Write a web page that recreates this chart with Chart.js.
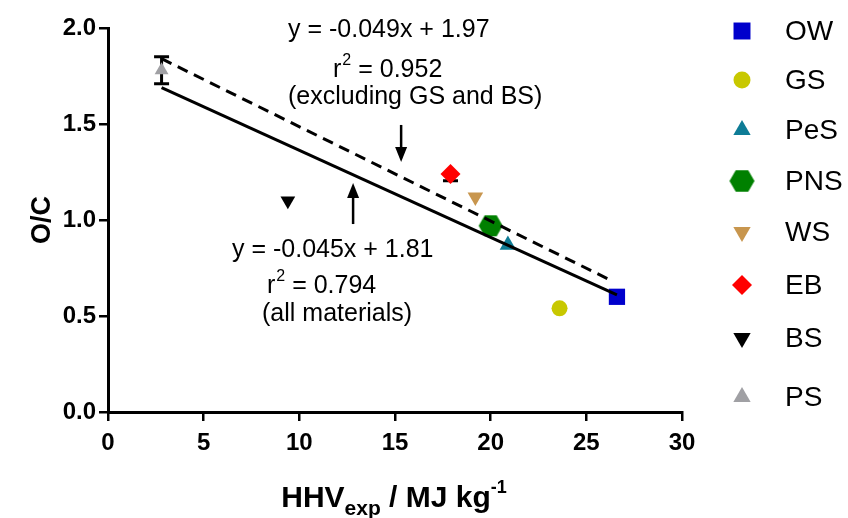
<!DOCTYPE html>
<html>
<head>
<meta charset="utf-8">
<script src="https://cdn.jsdelivr.net/npm/chart.js@4.4.0/dist/chart.umd.min.js"></script>
<style>
html, body { margin: 0; padding: 0; background: #fff; }
#wrap { width: 848px; height: 518px; }
</style>
</head>
<body>
<div id="wrap"><canvas id="myChart"></canvas></div>
<script>
// materials and their values
let materials = ['OW', 'GS', 'PeS', 'PNS', 'WS', 'EB', 'BS', 'PS'];
let hhv = [26.6, 23.6, 20.9, 20.0, 19.2, 17.9, 9.4, 2.8];
let oc = [0.60, 0.54, 0.87, 0.97, 1.12, 1.24, 1.10, 1.78];
let ocErrUp = [0, 0, 0, 0, 0, 0, 0, 0.07];
let ocErrDown = [0, 0, 0, 0, 0, 0.036, 0, 0.07];
let colors = ['#0000CC', '#C8C800', '#0E7C96', '#008000', '#C8964E', '#FF0000', '#000000', '#A0A0A4'];
let styles = ['rect', 'circle', 'triangle', 'hex', 'triangle', 'rectRot', 'triangle', 'triangle'];
let rotations = [0, 0, 0, 0, 180, 0, 180, 0];
let radii = [11.5, 8, 9.5, 12, 9, 10, 8.5, 8];
let legendRadii = [12, 8.5, 10, 12.5, 10, 10, 10, 10];

// regression lines, end points
let fitAllX = [2.8, 26.6];
let fitAllY = [1.69, 0.61];
let fitExclX = [2.8, 26.4];
let fitExclY = [1.84, 0.68];

let xTicks = [0, 5, 10, 15, 20, 25, 30];
let yTicks = [0.0, 0.5, 1.0, 1.5, 2.0];

let FONT = "'Liberation Sans', Arial, Helvetica, sans-serif";

// hexagon marker (not built in chart.js)
function makeHex(color, r) {
    let c = document.createElement('canvas');
    let w = Math.ceil(r * 2) + 2, h = Math.ceil(r * Math.sqrt(3)) + 2;
    c.width = w; c.height = h;
    let g = c.getContext('2d');
    g.fillStyle = color;
    g.beginPath();
    for (let i = 0; i < 6; i++) {
        let a = Math.PI / 3 * i;
        let px = w / 2 + r * Math.cos(a), py = h / 2 + r * Math.sin(a);
        if (i === 0) g.moveTo(px, py); else g.lineTo(px, py);
    }
    g.closePath();
    g.fill();
    return c;
}
let hexImg = makeHex('#008000', 12);
let hexLegend = makeHex('#008000', 12.5);

function pointStyleOf(i) {
    return styles[i] === 'hex' ? hexImg : styles[i];
}

let datasets = [];
// lines get a lower order so they are drawn over the markers
datasets.push({
    type: 'line',
    label: 'all materials',
    data: fitAllX.map((x, i) => ({x: x, y: fitAllY[i]})),
    borderColor: '#000',
    borderWidth: 3,
    pointRadius: 0,
    fill: false,
    order: 0
});
datasets.push({
    type: 'line',
    label: 'excluding GS and BS',
    data: fitExclX.map((x, i) => ({x: x, y: fitExclY[i]})),
    borderColor: '#000',
    borderWidth: 3,
    borderDash: [11, 7],
    pointRadius: 0,
    fill: false,
    order: 0
});
materials.forEach((m, i) => {
    datasets.push({
        type: 'scatter',
        label: m,
        data: [{x: hhv[i], y: oc[i]}],
        pointStyle: pointStyleOf(i),
        rotation: rotations[i],
        pointRadius: radii[i],
        backgroundColor: colors[i],
        borderColor: colors[i],
        borderWidth: 0,
        order: 1
    });
});

// annotations in data coordinates
let annText = [
    {x: 9.41, y: 1.953, text: 'y = -0.049x + 1.97'},
    {x: 11.76, y: 1.745, text: 'r', sup: '2', rest: ' = 0.952'},
    {x: 9.41, y: 1.604, text: '(excluding GS and BS)'},
    {x: 6.48, y: 0.807, text: 'y = -0.045x + 1.81'},
    {x: 8.31, y: 0.620, text: 'r', sup: '2', rest: ' = 0.794'},
    {x: 8.05, y: 0.474, text: '(all materials)'}
];
let arrows = [
    {x: 15.32, from: 1.495, to: 1.302},
    {x: 12.81, from: 0.979, to: 1.193}
];

let extras = {
    id: 'extras',
    beforeDatasetsDraw(chart) {
        let ctx = chart.ctx;
        let xs = chart.scales.x, ys = chart.scales.y;
        ctx.save();
        ctx.strokeStyle = '#000';
        ctx.lineWidth = 3;
        hhv.forEach((x, i) => {
            let px = xs.getPixelForValue(x);
            let mid = ys.getPixelForValue(oc[i]);
            [ocErrUp[i], -ocErrDown[i]].forEach(e => {
                if (!e) return;
                let end = ys.getPixelForValue(oc[i] + e);
                ctx.beginPath();
                ctx.moveTo(px, mid); ctx.lineTo(px, end);
                ctx.moveTo(px - 7.5, end); ctx.lineTo(px + 7.5, end);
                ctx.stroke();
            });
        });
        ctx.restore();
    },
    afterDraw(chart) {
        let ctx = chart.ctx;
        let xs = chart.scales.x, ys = chart.scales.y;
        ctx.save();
        ctx.fillStyle = '#000';
        ctx.textBaseline = 'alphabetic';
        ctx.textAlign = 'left';
        // equations
        annText.forEach(a => {
            let px = xs.getPixelForValue(a.x), py = ys.getPixelForValue(a.y);
            ctx.font = '25px ' + FONT;
            ctx.fillText(a.text, px, py);
            if (a.sup) {
                let w = ctx.measureText(a.text).width;
                ctx.font = '16px ' + FONT;
                ctx.fillText(a.sup, px + w + 1, py - 12);
                let w2 = ctx.measureText(a.sup).width;
                ctx.font = '25px ' + FONT;
                ctx.fillText(a.rest, px + w + w2 + 1, py);
            }
        });
        // arrows
        ctx.strokeStyle = '#000';
        ctx.lineWidth = 2.5;
        arrows.forEach(a => {
            let px = xs.getPixelForValue(a.x);
            let y0 = ys.getPixelForValue(a.from), y1 = ys.getPixelForValue(a.to);
            let dir = y1 > y0 ? 1 : -1;
            ctx.beginPath();
            ctx.moveTo(px, y0);
            ctx.lineTo(px, y1 - dir * 12);
            ctx.stroke();
            ctx.beginPath();
            ctx.moveTo(px, y1);
            ctx.lineTo(px - 6, y1 - dir * 15);
            ctx.lineTo(px + 6, y1 - dir * 15);
            ctx.closePath();
            ctx.fill();
        });
        // axis titles
        ctx.font = 'bold 27px ' + FONT;
        ctx.save();
        ctx.translate(40, (chart.chartArea.top + chart.chartArea.bottom) / 2);
        ctx.rotate(-Math.PI / 2);
        ctx.textAlign = 'center';
        ctx.fillText('O/C', 0, 10);
        ctx.restore();

        let parts = [
            {t: 'HHV', f: 'bold 30px ', dy: 0},
            {t: 'exp', f: 'bold 21px ', dy: 8},
            {t: ' / MJ kg', f: 'bold 30px ', dy: 0},
            {t: '-1', f: 'bold 18px ', dy: -14}
        ];
        let total = 0;
        parts.forEach(p => { ctx.font = p.f + FONT; p.w = ctx.measureText(p.t).width; total += p.w; });
        let cx = 394 - total / 2;
        parts.forEach(p => {
            ctx.font = p.f + FONT;
            ctx.fillText(p.t, cx, 507 + p.dy);
            cx += p.w;
        });

        // legend
        let rows = [31, 80, 130, 181, 232, 285, 338, 397];
        materials.forEach((m, i) => {
            let y = rows[i];
            ctx.fillStyle = colors[i];
            if (styles[i] === 'hex') {
                ctx.drawImage(hexLegend, 742 - hexLegend.width / 2, y - hexLegend.height / 2);
            } else {
                Chart.helpers.drawPoint(ctx, {
                    pointStyle: styles[i], rotation: rotations[i], radius: legendRadii[i], borderWidth: 0
                }, 742, y);
            }
            ctx.fillStyle = '#000';
            ctx.font = '28px ' + FONT;
            ctx.textBaseline = 'middle';
            ctx.fillText(m, 785, y + 1);
            ctx.textBaseline = 'alphabetic';
        });
        ctx.restore();
    }
};

let tickFont = {family: FONT, size: 24, weight: 'bold'};

let chart = new Chart(document.getElementById('myChart').getContext('2d'), {
    data: {datasets: datasets},
    options: {
        responsive: true,
        maintainAspectRatio: false,
        animation: false,
        events: [],
        layout: {padding: {top: 28, right: 166, bottom: 0, left: 0}},
        plugins: {
            legend: {display: false},
            tooltip: {enabled: false}
        },
        scales: {
            x: {
                type: 'linear',
                min: 0,
                max: 30,
                afterBuildTicks: s => { s.ticks = xTicks.map(v => ({value: v})); },
                afterFit: s => { s.height = 106; },
                ticks: {font: tickFont, color: '#000', padding: 8},
                grid: {drawOnChartArea: false, drawTicks: true, tickLength: 9, color: '#000', lineWidth: 2.5},
                border: {display: true, color: '#000', width: 3}
            },
            y: {
                type: 'linear',
                min: 0,
                max: 2,
                afterBuildTicks: s => { s.ticks = yTicks.map(v => ({value: v})); },
                afterFit: s => { s.width = 108; },
                ticks: {font: tickFont, color: '#000', padding: 3, callback: v => v.toFixed(1)},
                grid: {drawOnChartArea: false, drawTicks: true, tickLength: 9, color: '#000', lineWidth: 2.5},
                border: {display: true, color: '#000', width: 3}
            }
        }
    },
    plugins: [extras]
});
</script>
</body>
</html>
